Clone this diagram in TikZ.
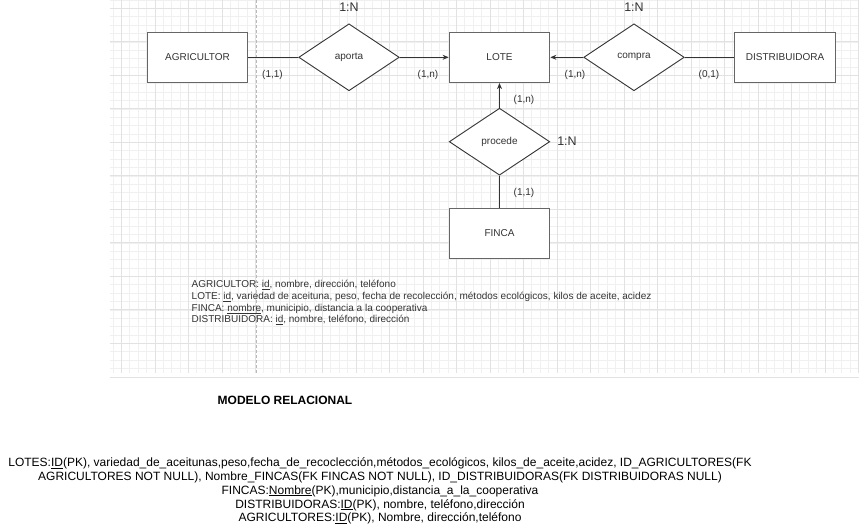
\documentclass[tikz,border=0pt]{standalone}
\usepackage{fontspec}
\setmainfont{Liberation Sans}
\usetikzlibrary{shapes.geometric,arrows.meta}

\definecolor{erline}{HTML}{333333}
\definecolor{erbox}{HTML}{666666}
\definecolor{gridminor}{HTML}{F0F0F0}
\definecolor{gridmajor}{HTML}{E2E2E2}

\tikzset{
  entity/.style={draw=erbox,line width=1.3pt,fill=white,minimum width=100.5pt,
    minimum height=50.25pt,inner sep=0pt,text=erline,font=\fontsize{10}{12}\selectfont},
  relation/.style={diamond,draw=erline,line width=0.9pt,fill=white,minimum width=100.5pt,
    minimum height=67pt,inner sep=0pt,text=erline,font=\fontsize{10}{12}\selectfont},
  card/.style={inner sep=0pt,text=erline,font=\fontsize{10}{12}\selectfont},
  ratio/.style={inner sep=0pt,text=erline,font=\fontsize{12.5}{14}\selectfont},
  link/.style={draw=erline,line width=0.8pt},
  pagebreak/.style={draw=gray!55,line width=0.6pt,dash pattern=on 3pt off 2pt}
}

\begin{document}
\begin{tikzpicture}[x=1pt,y=-1pt]
\useasboundingbox (0,0) rectangle (859,526);
\fill[white] (0,0) rectangle (859,526);

% grid of the drawing page
\foreach \i in {0,...,89}{
  \pgfmathsetmacro\gx{112.925+8.375*\i}
  \draw[gridminor,line width=0.5pt] (\gx,0) -- (\gx,373);
}
\foreach \i in {0,...,44}{
  \pgfmathsetmacro\gy{-0.075+8.375*\i}
  \draw[gridminor,line width=0.5pt] (110,\gy) -- (859,\gy);
}
\foreach \i in {0,...,22}{
  \pgfmathsetmacro\gx{121.3+33.5*\i}
  \draw[gridmajor,line width=0.6pt] (\gx,0) -- (\gx,373);
}
\foreach \i in {0,...,11}{
  \pgfmathsetmacro\gy{8.3+33.5*\i}
  \draw[gridmajor,line width=0.6pt] (110,\gy) -- (859,\gy);
}
\draw[pagebreak] (256,0) -- (256,373);

% entities and relations
\node[entity] (agricultor) at (197.5,57.3) {AGRICULTOR};
\node[relation] (aporta) at (349,57.3) {aporta};
\node[entity] (lote) at (499.5,57.3) {LOTE};
\node[relation] (compra) at (634,57.3) {compra};
\node[entity] (distribuidora) at (785,57.3) {DISTRIBUIDORA};
\node[relation] (procede) at (499.5,141.7) {procede};
\node[entity] (finca) at (499.5,233.4) {FINCA};

\draw[link] (agricultor) -- (aporta);
\draw[link,-{Stealth[length=6pt,width=5pt]}] (aporta) -- (lote);
\draw[link] (distribuidora) -- (compra);
\draw[link,-{Stealth[length=6pt,width=5pt]}] (compra) -- (lote);
\draw[link] (finca) -- (procede);
\draw[link,-{Stealth[length=6pt,width=5pt]}] (procede) -- (lote);

% cardinalities
\node[card] (c_agr) at (272.5,75) {(1,1)};
\node[card] (c_lote1) at (428,75) {(1,n)};
\node[card] (c_lote2) at (575,75) {(1,n)};
\node[card] (c_dis) at (709,75) {(0,1)};
\node[card] (c_lote3) at (524,100) {(1,n)};
\node[card] (c_fin) at (524,193) {(1,1)};

\node[ratio] (r_aporta) at (349,7.5) {1:N};
\node[ratio] (r_compra) at (634,7.5) {1:N};
\node[ratio] (r_procede) at (567,141.7) {1:N};

% attributes
\node[anchor=north west,inner sep=0pt,align=left,text=erline,
  font=\fontsize{10}{11.7}\selectfont] (atributos) at (191.5,280.3)
  {AGRICULTOR: \underline{id}, nombre, dirección, teléfono\\
   LOTE: \underline{id}, variedad de aceituna, peso, fecha de recolección, métodos ecológicos, kilos de aceite, acidez\\
   FINCA: \underline{nombre}, municipio, distancia a la cooperativa\\
   DISTRIBUIDORA: \underline{id}, nombre, teléfono, dirección};

% relational model
\node[inner sep=0pt,font=\bfseries\fontsize{12}{14}\selectfont] (titulo) at (285,400.5) {MODELO RELACIONAL};
\node[anchor=north,inner sep=0pt,align=center,font=\fontsize{12}{13.9}\selectfont] (relacional) at (380,457.3)
  {LOTES:\underline{ID}(PK), variedad\_de\_aceitunas,peso,fecha\_de\_recoclección,métodos\_ecológicos, kilos\_de\_aceite,acidez, ID\_AGRICULTORES(FK\\
   AGRICULTORES NOT NULL), Nombre\_FINCAS(FK FINCAS NOT NULL), ID\_DISTRIBUIDORAS(FK DISTRIBUIDORAS NULL)\\
   FINCAS:\underline{Nombre}(PK),municipio,distancia\_a\_la\_cooperativa\\
   DISTRIBUIDORAS:\underline{ID}(PK), nombre, teléfono,dirección\\
   AGRICULTORES:\underline{ID}(PK), Nombre, dirección,teléfono};
\end{tikzpicture}
\end{document}
